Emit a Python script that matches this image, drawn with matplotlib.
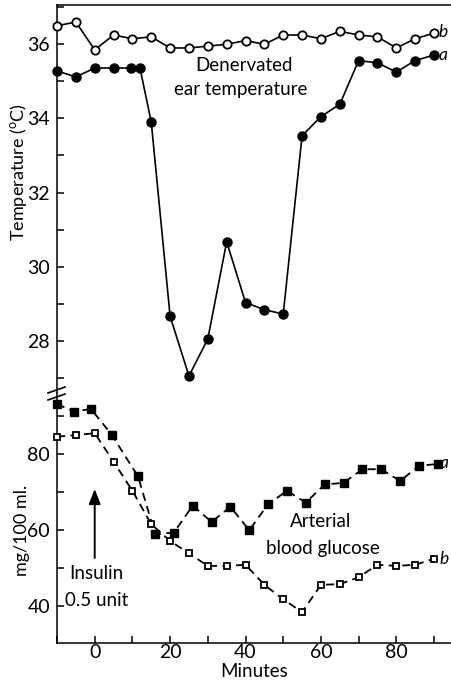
import matplotlib
matplotlib.use('Agg')
import matplotlib.pyplot as plt

plt.rcParams['font.family'] = ['Lato', 'DejaVu Sans']
plt.rcParams['mathtext.fontset'] = 'custom'
plt.rcParams['mathtext.rm'] = 'Lato'

# ear temperature (deg C)
minutes_b = [-10, -5, 0, 5, 10, 15, 20, 25, 30, 35, 40, 45, 50, 55, 60, 65, 70, 75, 80, 85, 90]
temp_b = [36.5, 36.6, 35.85, 36.25, 36.15, 36.2, 35.9, 35.9, 35.95, 36.0, 36.1,
          36.0, 36.25, 36.25, 36.15, 36.35, 36.25, 36.2, 35.9, 36.15, 36.3]
minutes_a = [-10, -5, 0, 5, 9.5, 12, 15, 20, 25, 30, 35, 40, 45, 50, 55, 60, 65, 70, 75, 80, 85, 90]
temp_a = [35.28, 35.12, 35.36, 35.36, 35.36, 35.36, 33.9, 28.66, 27.05, 28.05, 30.67,
          29.03, 28.84, 28.72, 33.53, 34.05, 34.38, 35.56, 35.5, 35.25, 35.56, 35.71]

# arterial blood glucose (mg/100 ml.)
minutes_glu_a = [-10, -5.5, -1, 4.5, 11.5, 16, 21, 26, 31, 36, 41, 46, 51, 56, 61, 66, 71, 76, 81, 86, 91]
glucose_a = [93.2, 91.2, 91.9, 85.1, 74.1, 58.9, 59.3, 66.4, 62.1, 66.1, 59.9,
             66.8, 70.3, 67.2, 72.0, 72.4, 76.0, 76.0, 72.9, 76.9, 77.4]
minutes_glu_b = [-10, -5, 0, 5, 10, 15, 20, 25, 30, 35, 40, 45, 50, 55, 60, 65, 70, 75, 80, 85, 90]
glucose_b = [84.6, 85.0, 85.5, 78.0, 70.3, 61.5, 57.1, 53.8, 50.5, 50.5, 50.8,
             45.5, 41.7, 38.3, 45.5, 45.7, 47.5, 50.8, 50.5, 50.8, 52.4]

x_ticks = [-10, 0, 10, 20, 30, 40, 50, 60, 70, 80, 90]
x_labels = ['', '0', '', '20', '', '40', '', '60', '', '80', '']
temp_ticks = [27, 28, 29, 30, 31, 32, 33, 34, 35, 36, 37]
temp_labels = ['', '28', '', '30', '', '32', '', '34', '', '36', '']
glu_ticks = [40, 50, 60, 70, 80, 90]
glu_labels = ['40', '', '60', '', '80', '']

fig = plt.figure(figsize=(4.51, 6.84), dpi=100)
ax1 = fig.add_axes([0.1264, 0.4254, 0.8736, 0.5673])
ax2 = fig.add_axes([0.1264, 0.0599, 0.8736, 0.3655])

lw = 1.1
for ax in (ax1, ax2):
    ax.set_xlim(-10, 94.5)
    ax.spines['right'].set_visible(False)
    for s in ax.spines.values():
        s.set_linewidth(lw)
    ax.tick_params(direction='in', length=5, width=lw, labelsize=14, pad=5)

ax1.spines['bottom'].set_visible(False)
ax1.set_xticks([])
ax2.spines['top'].set_visible(False)

ax1.set_ylim(26.59, 37.06)
ax2.set_ylim(30.16, 96.1)

ax1.set_yticks(temp_ticks)
ax1.set_yticklabels(temp_labels)
ax2.set_yticks(glu_ticks)
ax2.set_yticklabels(glu_labels)
ax2.set_xticks(x_ticks)
ax2.set_xticklabels(x_labels)
ax2.tick_params(axis='x', pad=1)

ax1.plot(minutes_b, temp_b, '-o', color='black', lw=1.2, ms=6, mfc='white', mec='black',
         mew=1.3, clip_on=False, zorder=3)
ax1.plot(minutes_a, temp_a, '-o', color='black', lw=1.2, ms=6.5, clip_on=False, zorder=3)

ax2.plot(minutes_glu_a, glucose_a, '--s', color='black', lw=1.3, ms=5.5, dashes=(4.5, 3),
         clip_on=False, zorder=3)
ax2.plot(minutes_glu_b, glucose_b, '--s', color='black', lw=1.3, ms=4.8, dashes=(4.5, 3),
         mfc='white', mec='black', mew=1.3, clip_on=False, zorder=3)

fs = 13.5
ax1.text(39.5, 35.44, 'Denervated', ha='center', va='center', fontsize=fs)
ax1.text(38.6, 34.79, 'ear temperature', ha='center', va='center', fontsize=fs)
ax1.text(91.2, 36.32, 'b', ha='left', va='center', fontsize=12.5, style='italic')
ax1.text(91.2, 35.72, 'a', ha='left', va='center', fontsize=12.5, style='italic')

ax2.text(59.8, 62.3, 'Arterial', ha='center', va='center', fontsize=fs)
ax2.text(60.4, 55.2, 'blood glucose', ha='center', va='center', fontsize=fs)
ax2.text(91.5, 77.6, 'a', ha='left', va='center', fontsize=12.5, style='italic', clip_on=True)
ax2.text(91.5, 52.3, 'b', ha='left', va='center', fontsize=12.5, style='italic', clip_on=True)

ax2.text(0.5, 48.6, 'Insulin', ha='center', va='center', fontsize=fs)
ax2.text(0.5, 41.5, '0.5 unit', ha='center', va='center', fontsize=fs)
ax2.annotate('', xy=(0, 70.8), xytext=(0, 52.6),
             arrowprops=dict(arrowstyle='-|>,head_length=0.9,head_width=0.35',
                             color='black', lw=1.4, shrinkA=0, shrinkB=0))

ax2.set_xlabel('Minutes', fontsize=fs, labelpad=1)
fig.text(0.042, 0.748, r'Temperature ($^{\mathrm{o}}$C)', rotation=90, ha='center', va='center',
         fontsize=13)
fig.text(0.048, 0.225, 'mg/100 ml.', rotation=90, ha='center', va='center', fontsize=13)

# break marks on the left axis
for dy in (0, 7):
    y0 = 1 - (393 + dy) / 684
    fig.add_artist(plt.Line2D([48 / 451, 65 / 451], [y0, y0 + 6 / 684], color='black', lw=1.2))

fig.savefig('out.png', dpi=100)
